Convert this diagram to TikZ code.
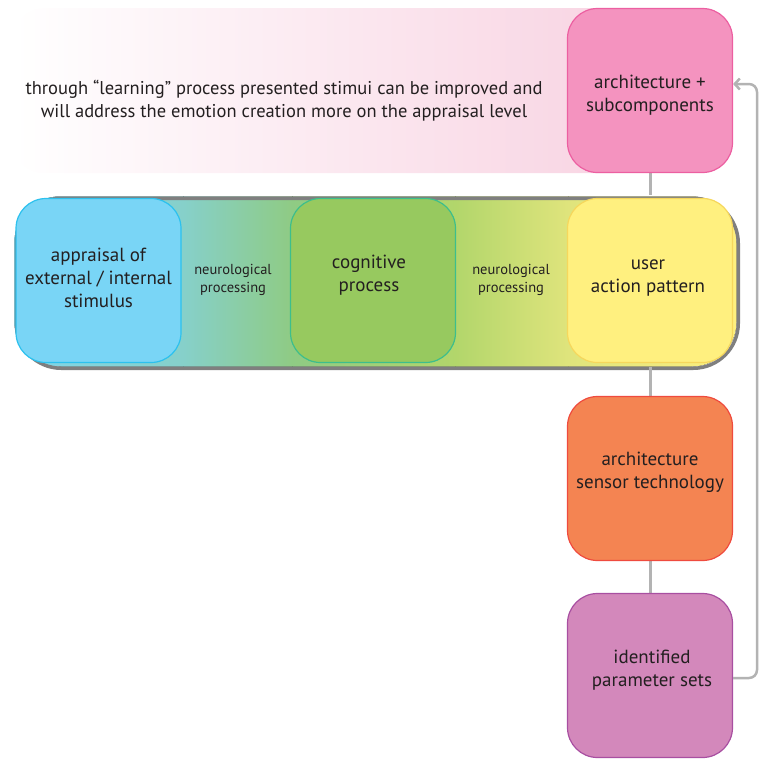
\documentclass[tikz,border=0pt]{standalone}
\usepackage{fontspec}
\setmainfont{PT Sans}
\usetikzlibrary{arrows.meta}
\definecolor{txt}{HTML}{231F20}
\definecolor{conn}{HTML}{B3B3B3}
\definecolor{bandedge}{HTML}{7F7F7F}
\definecolor{pinkfill}{HTML}{F493BF}
\definecolor{pinkedge}{HTML}{EC5FA1}
\definecolor{bannerpink}{HTML}{F8D3E2}
\definecolor{bluefill}{HTML}{79D5F6}
\definecolor{blueedge}{HTML}{2CC1EE}
\definecolor{greenfill}{HTML}{97C95F}
\definecolor{greenedge}{HTML}{3DBE8C}
\definecolor{yellowfill}{HTML}{FFF07F}
\definecolor{yellowedge}{HTML}{F6D75C}
\definecolor{orangefill}{HTML}{F48452}
\definecolor{orangeedge}{HTML}{EF4B3E}
\definecolor{purplefill}{HTML}{D388BB}
\definecolor{purpleedge}{HTML}{A84FA1}
\definecolor{bandA}{HTML}{80D6EA}
\definecolor{bandB}{HTML}{86D0CA}
\definecolor{bandC}{HTML}{8FCB84}
\definecolor{bandD}{HTML}{B2D66B}
\definecolor{bandE}{HTML}{DFE47C}
\definecolor{bandF}{HTML}{FFF07F}
\tikzset{
  box/.style={draw, line width=1.2pt, rounded corners=30pt, minimum width=165pt,
    minimum height=164pt, inner sep=0pt},
  lbl/.style={align=center, text=txt, font=\fontsize{19}{23}\selectfont, inner sep=0pt},
  smalltxt/.style={align=center, text=txt, font=\fontsize{14.5}{18}\selectfont, inner sep=0pt},
  link/.style={draw=conn, line width=3pt},
}
\begin{document}
\begin{tikzpicture}[x=1pt,y=-1pt]
\useasboundingbox (0,0) rectangle (760,758);
% banner
\node[rounded corners=30pt, minimum width=627pt, minimum height=165pt, inner sep=0pt,
  left color=white, right color=bannerpink, anchor=north west] (banner) at (13,8) {};
\node[lbl, font=\fontsize{18.5}{23}\selectfont] (note) at (284,100.5)
  {through “learning” process presented stimui can be improved and\\will address the emotion creation more on the appraisal level};
% band shading
\begin{scope}
  \clip[rounded corners=45pt] (14.5,196.5) rectangle (736.5,366.5);
  \fill[left color=bandA, right color=bandB] (10,190) rectangle (183.5,372);
  \fill[left color=bandB, right color=bandC] (183,190) rectangle (292.5,372);
  \fill[left color=bandC, right color=bandD] (292,190) rectangle (455.5,372);
  \fill[left color=bandD, right color=bandE] (455,190) rectangle (568.5,372);
  \fill[left color=bandE, right color=bandF] (568,190) rectangle (740,372);
\end{scope}
\node[draw=bandedge, line width=3.5pt, rounded corners=45pt, minimum width=722pt, minimum height=170pt,
  anchor=north west, inner sep=0pt] (band) at (14.5,196.5) {};
% connectors
\draw[link] (650,173) -- (650,195);
\draw[link] (650,367) -- (650,397);
\draw[link] (650,560) -- (650,594);
% boxes
\node[box, draw=pinkedge, fill=pinkfill] (arch) at (650,90.5) {};
\node[box, draw=blueedge, fill=bluefill] (appr) at (98.5,280.5) {};
\node[box, draw=greenedge, fill=greenfill] (cog) at (373,280.5) {};
\node[box, draw=yellowedge, fill=yellowfill] (user) at (650,280.5) {};
\node[box, draw=orangeedge, fill=orangefill] (sens) at (650,478.5) {};
\node[box, draw=purpleedge, fill=purplefill] (param) at (650,675.5) {};
% labels
\node[lbl] (archl) at (650,95) {architecture +\\subcomponents};
\node[lbl] (apprl) at (98.5,278) {appraisal of\\external / internal\\stimulus};
\node[lbl] (cogl) at (369,275.5) {cognitive\\process};
\node[lbl] (userl) at (648,278.5) {user\\action pattern};
\node[smalltxt] (neuro1) at (233,280) {neurological\\processing};
\node[smalltxt] (neuro2) at (511,280) {neurological\\processing};
\node[lbl] (sensl) at (650,472.5) {architecture\\sensor technology};
\node[lbl] (paraml) at (652,670.5) {identified\\parameter sets};
% feedback
\coordinate (fb1) at (757,678);
\coordinate (fb2) at (757,84);
\draw[draw=conn, line width=2.5pt, rounded corners=8pt, -{Straight Barb[length=5pt,width=11pt]}]
  (param.east |- fb1) -- (fb1) -- (fb2) -- (arch.east |- fb2);
\end{tikzpicture}
\end{document}
